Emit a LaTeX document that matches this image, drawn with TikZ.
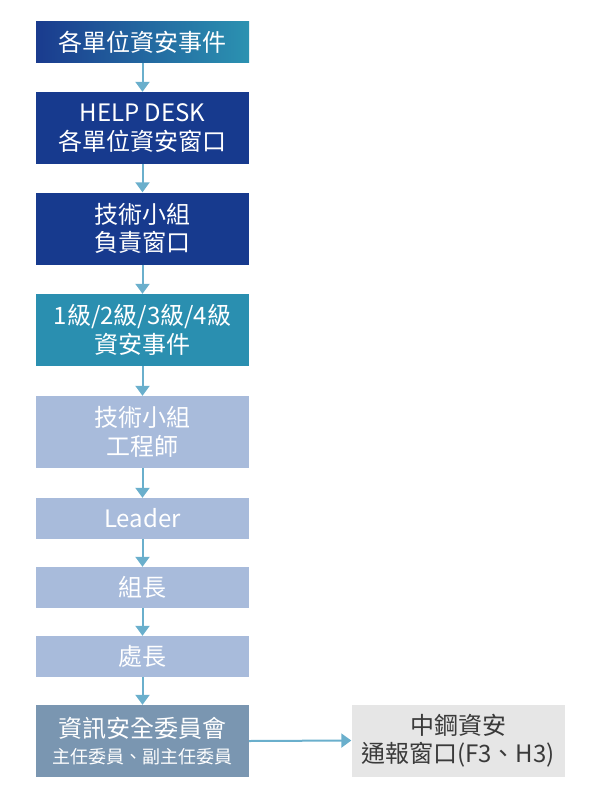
\documentclass[tikz,border=0pt]{standalone}
\usepackage{fontspec}
\setmainfont{Noto Sans CJK TC}
\usetikzlibrary{arrows.meta}
\definecolor{dblue}{HTML}{173A8E}
\definecolor{gleft}{HTML}{1A3B8E}
\definecolor{gright}{HTML}{2B92B1}
\definecolor{teal}{HTML}{2A8FB0}
\definecolor{lblue}{HTML}{A8BBDB}
\definecolor{slate}{HTML}{7A96B1}
\definecolor{lgrey}{HTML}{E6E6E6}
\definecolor{dtext}{HTML}{3A3A3A}
\definecolor{arrc}{HTML}{6AAFCC}
\begin{document}
\begin{tikzpicture}[x=1pt,y=-1pt,
  box/.style={minimum width=213pt, inner sep=0pt, text=white, align=center,
    font=\fontsize{24}{28.5}\selectfont},
  single/.style={box, minimum height=41pt},
  double/.style={box, minimum height=72pt},
  arr/.style={draw=arrc, line width=2pt, -{Triangle[width=14pt,length=10pt]}}]
\useasboundingbox (0,0) rectangle (600,800);
\node[single, left color=gleft, right color=gright] (b1) at (142.5,42.5) {各單位資安事件};
\node[double, fill=dblue] (b2) at (142.5,128) {HELP DESK\\各單位資安窗口};
\node[double, fill=dblue] (b3) at (142.5,228.5) {技術小組\\負責窗口};
\node[double, fill=teal] (b4) at (142.5,330) {1級/2級/3級/4級\\資安事件};
\node[double, fill=lblue] (b5) at (142.5,432) {技術小組\\工程師};
\node[single, fill=lblue] (b6) at (142.5,518.5) {Leader};
\node[single, fill=lblue] (b7) at (142.5,587.5) {組長};
\node[single, fill=lblue] (b8) at (142.5,656.5) {處長};
\node[double, fill=slate] (b9) at (142.5,741) {資訊安全委員會\\[-2pt]{\fontsize{18}{22}\selectfont 主任委員、副主任委員}};
\node[double, fill=lgrey, text=dtext] (b10) at (458,740.5) {中鋼資安\\通報窗口(F3、H3)};
\foreach \a/\b in {b1/b2,b2/b3,b3/b4,b4/b5,b5/b6,b6/b7,b7/b8,b8/b9}
  \draw[arr] (\a.south) -- (\b.north);
\draw[arr] (b9.east) -- (b10.west);
\end{tikzpicture}
\end{document}
